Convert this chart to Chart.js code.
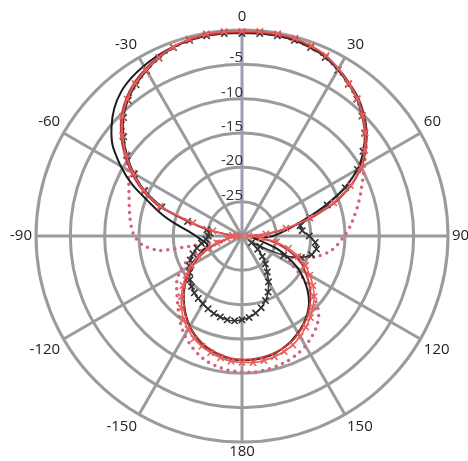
<!DOCTYPE html>
<html>
<head>
<meta charset="utf-8">
<script src="https://cdn.jsdelivr.net/npm/chart.js@4.4.1/dist/chart.umd.min.js"></script>
<style>
  html, body { margin: 0; padding: 0; background: #ffffff; overflow: hidden; width: 468px; height: 461px; }
  #wrap { position: relative; width: 468px; height: 461px; overflow: hidden; }
  #c { position: absolute; left: -12px; top: 8px; }
</style>
</head>
<body>
<div id="wrap"><canvas id="c" width="508" height="456"></canvas></div>
<script>
// Angular categories (degrees, clockwise from top)
const angles = [0,5,10,15,20,25,30,35,40,45,50,55,60,65,70,75,80,85,90,95,100,105,110,115,
  120,125,130,135,140,145,150,155,160,165,170,175,180,185,190,195,200,205,210,215,220,225,230,235,
  240,245,250,255,260,265,270,275,280,285,290,295,300,305,310,315,320,325,330,335,340,345,350,355];
// Angular tick labels every 30 degrees
const angleTickLabels = ['0','30','60','90','120','150','180','-150','-120','-90','-60','-30'];
// Radial ticks (dB)
const radialTicks = [-30,-25,-20,-15,-10,-5,0];

// Series values (dB)
const blackLine = [-0.4,-0.4,-0.4,-0.5,-0.8,-1.2,-1.9,-2.8,-3.7,-4.9,-6.3,-8.1,
  -10.5,-13.6,-17.2,-20.4,-22.7,-24.3,-25.5,-27.0,-28.4,-27.0,-24.6,-22.6,
  -20.6,-19.0,-17.5,-16.2,-15.2,-14.4,-13.7,-13.1,-12.6,-12.2,-12.0,-11.9,
  -11.9,-12.0,-12.3,-12.7,-13.2,-13.9,-14.8,-15.8,-16.9,-18.0,-19.2,-20.3,
  -21.4,-22.8,-24.0,-24.8,-24.6,-24.0,-23.3,-22.2,-20.3,-18.0,-15.6,-12.4,
  -9.6,-7.0,-5.2,-3.7,-2.6,-1.9,-1.4,-1.0,-0.7,-0.5,-0.4,-0.4];
const blackMarkers = [-0.5,-0.4,-0.4,-0.5,-0.8,-1.3,-2.1,-3.0,-4.0,-5.3,-6.7,-8.5,
  -10.6,-13.4,-16.8,-19.8,-21.4,-21.2,-20.2,-19.3,-19.0,-19.5,-20.8,-23.3,
  -27.0,-28.3,-27.0,-25.8,-24.7,-23.6,-22.3,-21.0,-20.0,-19.2,-18.6,-18.1,
  -17.8,-17.6,-17.6,-17.8,-18.0,-18.3,-18.6,-18.9,-19.2,-19.6,-20.1,-20.7,
  -21.2,-21.7,-22.4,-23.2,-24.0,-24.7,-25.1,-25.3,-24.8,-21.8,-17.6,-14.4,
  -11.9,-9.6,-7.5,-5.6,-4.2,-3.1,-2.2,-1.4,-0.8,-0.5,-0.4,-0.4];
const redLine = [-0.3,-0.2,-0.2,-0.3,-0.6,-1.1,-1.9,-2.8,-3.8,-5.0,-6.4,-8.0,
  -9.9,-12.4,-15.5,-19.3,-23.0,-26.2,-28.7,-28.0,-25.6,-23.8,-22.0,-20.4,
  -19.3,-18.1,-17.0,-16.0,-15.1,-14.3,-13.6,-13.0,-12.6,-12.3,-12.1,-12.0,
  -12.0,-12.1,-12.4,-12.8,-13.3,-14.0,-14.8,-15.7,-16.8,-17.9,-19.2,-20.5,
  -21.9,-23.4,-25.0,-26.6,-28.2,-29.4,-29.6,-28.2,-25.3,-22.0,-17.0,-13.9,
  -11.4,-9.1,-7.0,-5.2,-3.8,-2.7,-1.9,-1.2,-0.7,-0.4,-0.3,-0.3];
const redMarkers = [-0.2,-0.1,-0.1,-0.2,-0.5,-1.0,-1.9,-2.9,-3.9,-5.2,-6.6,-8.2,
  -10.0,-12.6,-15.8,-19.8,-23.5,-26.5,-29.0,-27.2,-24.9,-23.0,-21.3,-19.8,
  -18.6,-17.4,-16.3,-15.4,-14.5,-13.8,-13.1,-12.5,-12.1,-11.8,-11.6,-11.5,
  -11.6,-11.7,-12.0,-12.4,-12.9,-13.5,-14.3,-15.2,-16.3,-17.5,-18.8,-20.1,
  -21.5,-23.0,-24.6,-26.2,-27.8,-29.2,-29.8,-28.6,-25.7,-22.6,-17.3,-14.2,
  -11.7,-9.4,-7.3,-5.4,-4.0,-2.9,-2.1,-1.3,-0.7,-0.3,-0.1,-0.1];
const pinkDotted = [-0.3,-0.3,-0.3,-0.5,-0.8,-1.3,-2.1,-3.0,-4.0,-5.2,-6.5,-8.0,
  -9.4,-10.6,-11.6,-12.5,-13.4,-14.2,-15.1,-16.0,-17.0,-18.6,-20.5,-22.5,
  -21.5,-19.0,-16.3,-14.2,-13.0,-12.2,-11.5,-11.0,-10.6,-10.4,-10.2,-10.1,
  -10.2,-10.3,-10.6,-11.0,-11.6,-12.4,-13.3,-14.4,-15.6,-16.7,-17.6,-18.4,
  -19.5,-21.0,-23.0,-27.0,-17.8,-15.4,-14.3,-13.8,-13.4,-13.0,-12.5,-11.8,
  -10.8,-9.3,-7.5,-5.6,-4.2,-3.1,-2.2,-1.4,-0.8,-0.5,-0.3,-0.3];

const FONT = '"Open Sans", "Liberation Sans", sans-serif';

const tickLabelPlugin = {
  id: 'tickLabels',
  afterDraw(chart) {
    const s = chart.scales.r;
    const ctx = chart.ctx;
    ctx.save();
    ctx.font = '15px ' + FONT;
    ctx.fillStyle = '#333333';
    ctx.textAlign = 'right';
    ctx.textBaseline = 'alphabetic';
    s.ticks.forEach(t => {
      if (t.value > radialTicks[0] && t.value < radialTicks[radialTicks.length - 1]) {
        const d = s.getDistanceFromCenterForValue(t.value);
        ctx.fillText(String(t.value), s.xCenter + 1, s.yCenter - d - 2);
      }
    });
    ctx.restore();
  }
};

new Chart(document.getElementById('c'), {
  type: 'radar',
  data: {
    labels: angles,
    datasets: [
      { label: 'red markers', data: redMarkers, borderColor: '#e25d5d', borderWidth: 1.5,
        pointStyle: 'crossRot', pointRadius: 4.5, pointBorderColor: '#e8615f', pointBorderWidth: 1.6,
        backgroundColor: 'rgba(0,0,0,0)', fill: false, tension: 0.2 },
      { label: 'red line', data: redLine, borderColor: '#c43535', borderWidth: 2,
        pointRadius: 0, backgroundColor: 'rgba(0,0,0,0)', fill: false, tension: 0.2 },
      { label: 'black markers', data: blackMarkers, borderColor: '#2e2e2e', borderWidth: 1.5,
        pointStyle: 'crossRot', pointRadius: 4.5, pointBorderColor: '#333333', pointBorderWidth: 1.6,
        backgroundColor: 'rgba(0,0,0,0)', fill: false, tension: 0.2 },
      { label: 'black line', data: blackLine, borderColor: '#1c1c1c', borderWidth: 2,
        pointRadius: 0, backgroundColor: 'rgba(0,0,0,0)', fill: false, tension: 0.2 },
      { label: 'pink dotted', data: pinkDotted, borderColor: '#dc5f78', borderWidth: 3.5,
        borderDash: [0, 7], borderCapStyle: 'round', pointRadius: 0,
        backgroundColor: 'rgba(0,0,0,0)', fill: false, tension: 0.2 }
    ]
  },
  options: {
    responsive: false,
    animation: false,
    devicePixelRatio: 1,
    layout: { padding: 0 },
    plugins: { legend: { display: false }, tooltip: { enabled: false } },
    scales: {
      r: {
        min: radialTicks[0],
        max: radialTicks[radialTicks.length - 1],
        startAngle: 0,
        ticks: { stepSize: 5, display: false },
        grid: { circular: true, color: '#9b9b9b', lineWidth: 3 },
        angleLines: {
          color: (ctx) => ctx.index === 0 ? '#9a9cb8' : '#9b9b9b',
          lineWidth: (ctx) => ctx.index % 6 === 0 ? 3 : 0
        },
        pointLabels: {
          padding: (ctx) => ctx.index === 36 ? 1 : 4,
          color: '#222222',
          font: { size: 15, family: FONT },
          callback: (label, index) => index % 6 === 0 ? angleTickLabels[index / 6] : ''
        }
      }
    }
  },
  plugins: [tickLabelPlugin]
});
</script>
</body>
</html>
